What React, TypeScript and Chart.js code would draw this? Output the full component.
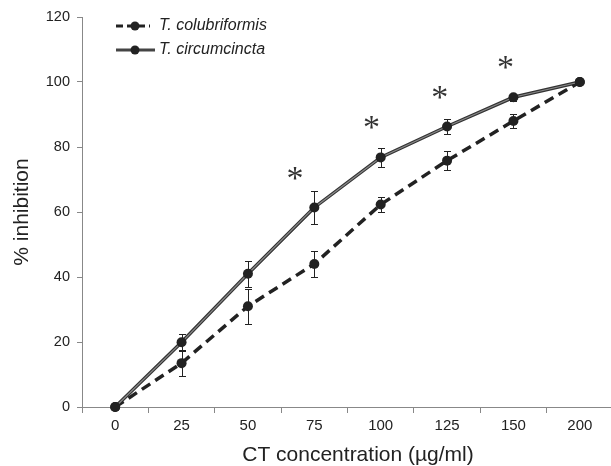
import React, { useEffect, useRef } from "react";
import { Chart, registerables } from "chart.js";

Chart.register(...registerables);

const categories = ["0", "25", "50", "75", "100", "125", "150", "200"];
const colubriformis = [0, 13.5, 31, 44, 62.3, 75.8, 88, 100];
const colubriformisErr = [0, 4, 5.4, 3.9, 2.3, 3, 2.3, 0];
const circumcincta = [0, 19.9, 41, 61.4, 76.8, 86.3, 95.3, 100];
const circumcinctaErr = [0, 2.6, 4, 5, 2.9, 2.4, 1, 0];
const asteriskPos = [2.71, 3.86, 4.89, 5.88];
const asteriskVal = [72, 87.6, 97, 106];
const yTicks = [0, 20, 40, 60, 80, 100, 120];
const xTitle = "CT concentration (µg/ml)";
const yTitle = "% inhibition";

const FONT = "'Liberation Sans', Arial, sans-serif";

const overlayPlugin = {
  id: "overlay",
  afterDatasetsDraw(chart: any) {
    const ctx = chart.ctx;
    const x = chart.scales.x;
    const y = chart.scales.y;
    ctx.save();
    // light core on the solid line
    const meta = chart.getDatasetMeta(1);
    ctx.strokeStyle = "#8a8a8a";
    ctx.lineWidth = 1.2;
    ctx.beginPath();
    meta.data.forEach((p: any, i: number) => {
      if (i === 0) ctx.moveTo(p.x, p.y);
      else ctx.lineTo(p.x, p.y);
    });
    ctx.stroke();
    // redraw points on top
    ctx.fillStyle = "#222";
    for (const m of [chart.getDatasetMeta(0), meta]) {
      m.data.forEach((p: any) => {
        ctx.beginPath();
        ctx.arc(p.x, p.y, 5, 0, Math.PI * 2);
        ctx.fill();
      });
    }
    // error bars
    const errs = [colubriformisErr, circumcinctaErr];
    const vals = [colubriformis, circumcincta];
    ctx.strokeStyle = "#222";
    ctx.lineWidth = 1;
    for (let s = 0; s < 2; s++) {
      for (let i = 0; i < categories.length; i++) {
        const e = errs[s][i];
        if (!e) continue;
        const px = Math.round(x.getPixelForValue(i)) + 0.5;
        const top = Math.round(y.getPixelForValue(vals[s][i] + e)) + 0.5;
        const bot = Math.round(y.getPixelForValue(vals[s][i] - e)) + 0.5;
        ctx.beginPath();
        ctx.moveTo(px, top);
        ctx.lineTo(px, bot);
        ctx.moveTo(px - 3.5, top);
        ctx.lineTo(px + 3.5, top);
        ctx.moveTo(px - 3.5, bot);
        ctx.lineTo(px + 3.5, bot);
        ctx.stroke();
      }
    }
    // asterisks
    ctx.fillStyle = "#333";
    ctx.font = `34px 'Liberation Serif', serif`;
    ctx.textAlign = "center";
    ctx.textBaseline = "middle";
    for (let k = 0; k < asteriskPos.length; k++) {
      const f = asteriskPos[k];
      const i0 = Math.floor(f);
      const p0 = x.getPixelForValue(i0);
      const p1 = x.getPixelForValue(i0 + 1);
      const px = p0 + (p1 - p0) * (f - i0);
      const py = y.getPixelForValue(asteriskVal[k]);
      ctx.fillText("*", px, py + 7);
    }
    // legend
    const items = [
      { label: "T. colubriformis", dash: [7, 4], color: "#222", ly: 26, len: 34 },
      { label: "T. circumcincta", dash: [], color: "#444", ly: 50, len: 39 },
    ];
    const lx0 = chart.chartArea.left + 34;
    for (const it of items) {
      ctx.setLineDash(it.dash);
      ctx.strokeStyle = it.color;
      ctx.lineWidth = 3;
      ctx.beginPath();
      ctx.moveTo(lx0, it.ly);
      ctx.lineTo(lx0 + it.len, it.ly);
      ctx.stroke();
      ctx.setLineDash([]);
      ctx.fillStyle = "#222";
      ctx.beginPath();
      ctx.arc(lx0 + 19, it.ly, 4.5, 0, Math.PI * 2);
      ctx.fill();
      ctx.font = `italic 16px ${FONT}`;
      ctx.textAlign = "left";
      ctx.textBaseline = "middle";
      ctx.fillStyle = "#222";
      ctx.fillText(it.label, lx0 + 43, it.ly);
    }
    // axis titles
    ctx.fillStyle = "#222";
    ctx.font = `21px ${FONT}`;
    ctx.textAlign = "center";
    ctx.textBaseline = "alphabetic";
    ctx.fillText(xTitle, 358, 461);
    ctx.translate(28, (chart.chartArea.top + chart.chartArea.bottom) / 2);
    ctx.rotate(-Math.PI / 2);
    ctx.fillText(yTitle, 0, 0);
    ctx.restore();
  },
};

export default function App() {
  const ref = useRef<HTMLCanvasElement | null>(null);
  useEffect(() => {
    if (!ref.current) return;
    const chart = new Chart(ref.current, {
      type: "line",
      data: {
        labels: categories,
        datasets: [
          {
            label: "T. colubriformis",
            data: colubriformis,
            borderColor: "#222",
            borderWidth: 3.5,
            borderDash: [10, 6],
            pointRadius: 0,
            tension: 0,
          },
          {
            label: "T. circumcincta",
            data: circumcincta,
            borderColor: "#333",
            borderWidth: 3.5,
            pointRadius: 0,
            tension: 0,
          },
        ],
      },
      options: {
        animation: false,
        responsive: false,
        layout: { padding: { top: 17, right: 7, left: 0, bottom: 0 } },
        plugins: { legend: { display: false }, tooltip: { enabled: false } },
        scales: {
          x: {
            type: "category",
            offset: true,
            grid: {
              offset: true,
              drawOnChartArea: false,
              drawTicks: true,
              tickLength: 6,
              color: "#888",
            },
            border: { color: "#888", width: 1 },
            ticks: {
              color: "#222",
              font: { family: FONT, size: 15 },
              padding: 4,
              maxRotation: 0,
            },
            afterFit(scale: any) {
              scale.height = 59;
            },
          },
          y: {
            min: 0,
            max: 120,
            afterBuildTicks(scale: any) {
              scale.ticks = yTicks.map((v) => ({ value: v }));
            },
            grid: {
              drawOnChartArea: false,
              drawTicks: true,
              tickLength: 5,
              color: "#888",
            },
            border: { color: "#888", width: 1 },
            ticks: {
              color: "#222",
              font: { family: FONT, size: 14.5 },
              padding: 7,
            },
            afterFit(scale: any) {
              scale.width = 82;
            },
          },
        },
      },
      plugins: [overlayPlugin],
    });
    return () => chart.destroy();
  }, []);
  return (
    <div style={{ position: "absolute", left: 0, top: 0, width: 611, height: 466, overflow: "hidden" }}>
      <canvas ref={ref} width={620} height={466} style={{ width: 620, height: 466 }} />
    </div>
  );
}
